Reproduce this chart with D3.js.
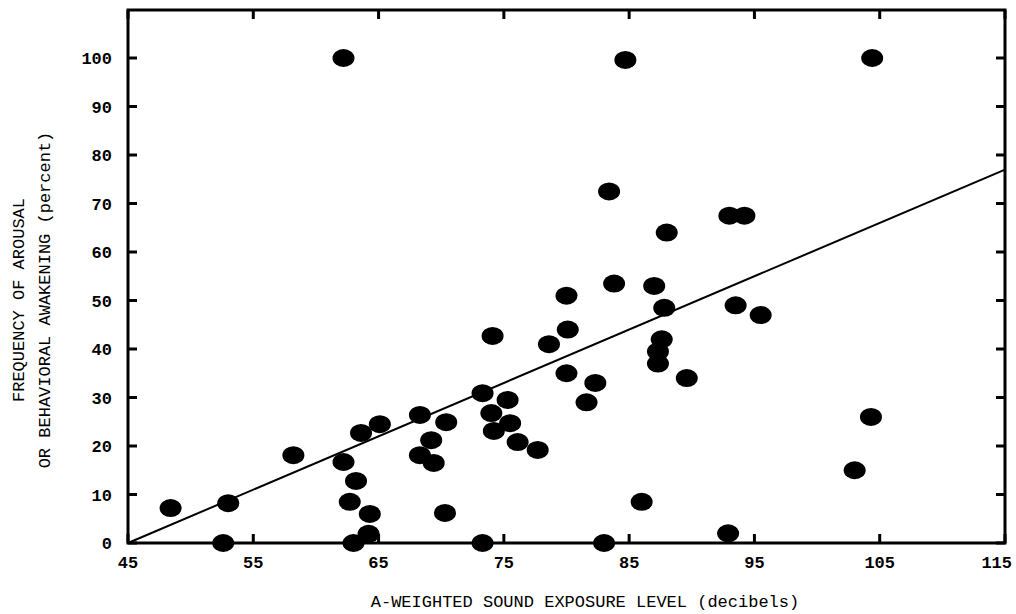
<!DOCTYPE html>
<html><head><meta charset="utf-8">
<script src="https://cdn.jsdelivr.net/npm/d3@7"></script>
<style>body{margin:0;background:#fff}text{font-family:"Liberation Mono",monospace;font-weight:bold}</style>
</head><body><svg width="1016" height="614"></svg>
<script>
var xVals = [48.4,53.0,52.6,58.2,62.2,62.2,62.7,63.2,63.6,64.3,64.2,63.0,65.1,68.3,68.3,69.2,69.4,70.4,70.3,73.3,73.3,74.0,74.1,74.2,75.3,75.5,76.1,77.7,78.6,80.0,80.1,80.0,81.6,82.3,83.4,83.8,84.7,83.0,86.0,87.0,87.8,87.6,87.3,87.3,88.0,92.9,93.0,94.2,93.5,95.5,89.6,103.0,104.3,104.4];
var yVals = [7.2,8.2,0,18.1,100,16.7,8.5,12.8,22.7,6.0,1.9,0,24.5,26.4,18.1,21.2,16.5,24.9,6.2,30.9,0,26.8,42.7,23.1,29.5,24.7,20.8,19.2,41.0,51.0,44.0,35.0,29.0,33.0,72.5,53.5,99.6,0,8.5,53.0,48.5,42.0,39.5,37.0,64.0,2.0,67.5,67.5,49.0,47.0,34.0,15.0,26.0,100];
var xTicks = [45,55,65,75,85,95,105,115];
var yTicks = [0,10,20,30,40,50,60,70,80,90,100];
var fitLine = [[45,0],[115,77]];

var svg = d3.select('svg');
var x = d3.scaleLinear().domain([45,115]).range([128,1005]);
var y = d3.scaleLinear().domain([0,100]).range([543,58]);
var plotTop = 10;

svg.append('rect').attr('x',128).attr('y',plotTop).attr('width',1005-128).attr('height',543-plotTop)
    .attr('fill','none').attr('stroke','#000').attr('stroke-width',3);

var tk = 9;
svg.selectAll('.yl').data(yTicks).enter().append('line')
    .attr('x1',128).attr('x2',128+tk).attr('y1',d=>y(d)).attr('y2',d=>y(d)).attr('stroke','#000').attr('stroke-width',3);
svg.selectAll('.yr').data(yTicks).enter().append('line')
    .attr('x1',1005).attr('x2',1005-tk).attr('y1',d=>y(d)).attr('y2',d=>y(d)).attr('stroke','#000').attr('stroke-width',3);
svg.selectAll('.xb').data(xTicks).enter().append('line')
    .attr('y1',543).attr('y2',543-tk).attr('x1',d=>x(d)).attr('x2',d=>x(d)).attr('stroke','#000').attr('stroke-width',3);
svg.selectAll('.xt').data(xTicks).enter().append('line')
    .attr('y1',plotTop).attr('y2',plotTop+tk).attr('x1',d=>x(d)).attr('x2',d=>x(d)).attr('stroke','#000').attr('stroke-width',3);

svg.selectAll('.ylab').data(yTicks).enter().append('text')
    .attr('x',112).attr('y',d=>y(d)+6).attr('text-anchor','end').style('font-size','17px').text(d=>d);
svg.selectAll('.xlab').data(xTicks).enter().append('text')
    .attr('x',d=>d===115?1012:x(d)).attr('y',568).attr('text-anchor',d=>d===115?'end':'middle').style('font-size','17px').text(d=>d);

svg.append('text').attr('x',585).attr('y',607).attr('text-anchor','middle').style('font-size','17px')
    .style('font-weight','normal').text('A-WEIGHTED SOUND EXPOSURE LEVEL (decibels)');
svg.append('text').attr('transform','translate(24,300) rotate(-90)').attr('text-anchor','middle')
    .style('font-size','17px').style('font-weight','normal').text('FREQUENCY OF AROUSAL');
svg.append('text').attr('transform','translate(50,300) rotate(-90)').attr('text-anchor','middle')
    .style('font-size','17px').style('font-weight','normal').text('OR BEHAVIORAL AWAKENING (percent)');

svg.append('line').attr('x1',x(fitLine[0][0])).attr('y1',y(fitLine[0][1]))
    .attr('x2',x(fitLine[1][0])).attr('y2',y(fitLine[1][1])).attr('stroke','#000').attr('stroke-width',2);

svg.selectAll('.dot').data(xVals).enter().append('ellipse')
    .attr('cx',(d)=>x(d)).attr('cy',(d,i)=>y(yVals[i])).attr('rx',11).attr('ry',9).attr('fill','#000');
</script></body></html>
